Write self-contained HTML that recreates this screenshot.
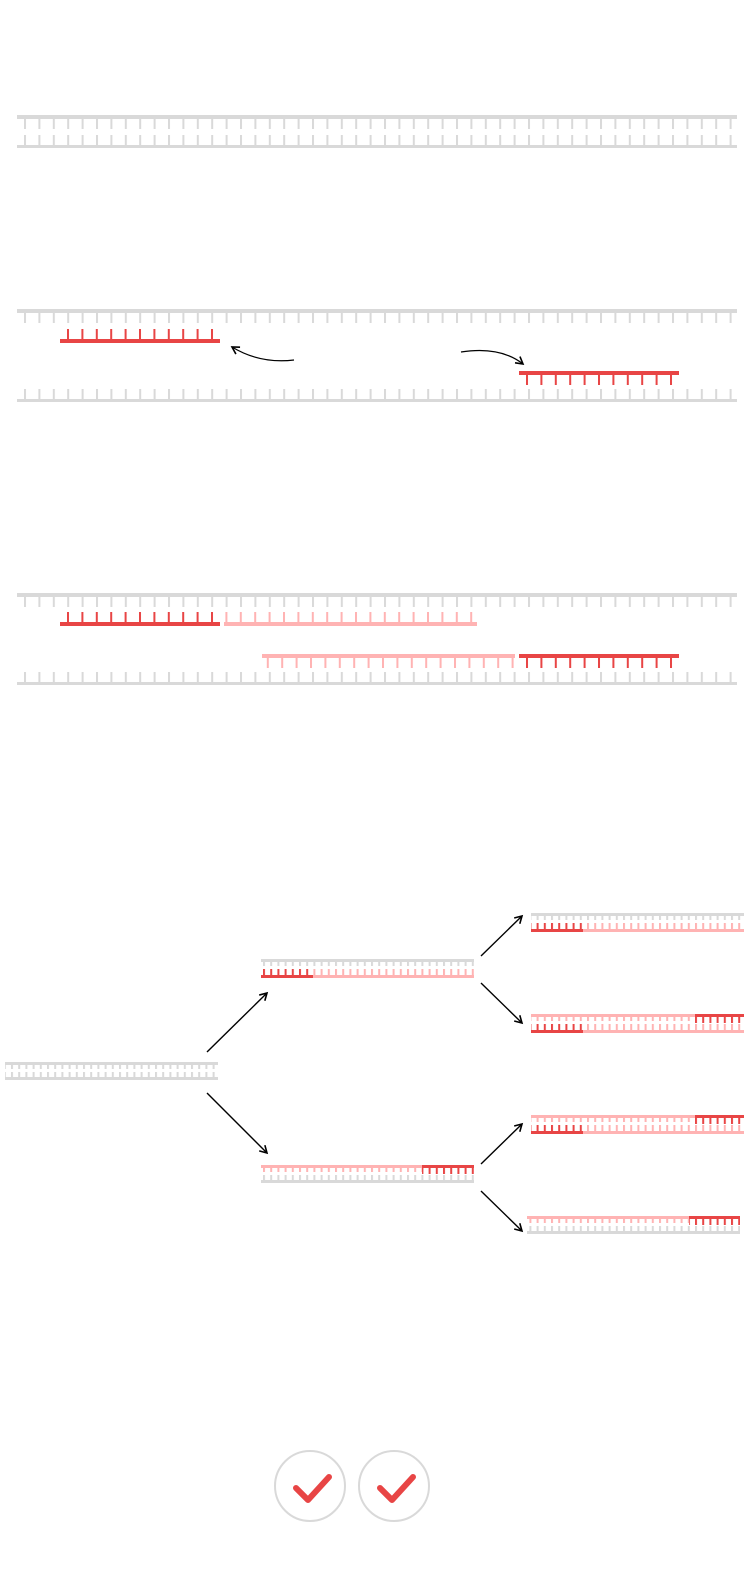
<!DOCTYPE html>
<html><head><meta charset="utf-8"><style>html,body{margin:0;padding:0;background:#fff}svg{display:block}</style></head>
<body>
<svg width="750" height="1570" viewBox="0 0 750 1570" xmlns="http://www.w3.org/2000/svg">
<defs>
<pattern id="bg" patternUnits="userSpaceOnUse" x="24" y="0" width="14.4" height="10"><rect width="2" height="10" fill="#d9d9d9"/></pattern>
<pattern id="br" patternUnits="userSpaceOnUse" x="67" y="0" width="14.4" height="10"><rect width="2" height="10" fill="#e84545"/></pattern>
<pattern id="br2" patternUnits="userSpaceOnUse" x="526" y="0" width="14.4" height="10"><rect width="2" height="10" fill="#e84545"/></pattern>
<pattern id="bp" patternUnits="userSpaceOnUse" x="67" y="0" width="14.4" height="10"><rect width="2" height="10" fill="#ffb3b3"/></pattern>
<pattern id="bp2" patternUnits="userSpaceOnUse" x="526" y="0" width="14.4" height="10"><rect width="2" height="10" fill="#ffb3b3"/></pattern>
<pattern id="sg" patternUnits="userSpaceOnUse" x="11" y="0" width="7.2" height="10"><rect width="2" height="10" fill="#d9d9d9"/></pattern>
<pattern id="sr" patternUnits="userSpaceOnUse" x="11" y="0" width="7.2" height="10"><rect width="2" height="10" fill="#e84545"/></pattern>
<pattern id="sp" patternUnits="userSpaceOnUse" x="11" y="0" width="7.2" height="10"><rect width="2" height="10" fill="#ffb3b3"/></pattern>
<marker id="ah" markerWidth="10" markerHeight="10" refX="8" refY="5" orient="auto" markerUnits="userSpaceOnUse"><path d="M1,1 L8,5 L1,9" fill="none" stroke="#000" stroke-width="1.6"/></marker>
</defs>

<!-- Section 1 -->
<rect x="17" y="115" width="720" height="4" fill="#d9d9d9"/>
<rect x="17" y="119" width="720" height="10" fill="url(#bg)"/>
<rect x="17" y="135" width="720" height="10" fill="url(#bg)"/>
<rect x="17" y="145" width="720" height="3" fill="#d9d9d9"/>

<!-- Section 2 -->
<rect x="17" y="309" width="720" height="4" fill="#d9d9d9"/>
<rect x="17" y="313" width="720" height="10" fill="url(#bg)"/>
<rect x="60" y="339" width="160" height="4" fill="#e84545"/>
<rect x="60" y="329" width="160" height="10" fill="url(#br)"/>
<path d="M294,360 Q260,364 232,347" fill="none" stroke="#000" stroke-width="1.2" marker-end="url(#ah)"/>
<path d="M461,352 Q500,346 523,364" fill="none" stroke="#000" stroke-width="1.2" marker-end="url(#ah)"/>
<rect x="519" y="371" width="160" height="4" fill="#e84545"/>
<rect x="519" y="375" width="160" height="10" fill="url(#br2)"/>
<rect x="17" y="389" width="720" height="10" fill="url(#bg)"/>
<rect x="17" y="399" width="720" height="3" fill="#d9d9d9"/>

<!-- Section 3 -->
<rect x="17" y="593" width="720" height="4" fill="#d9d9d9"/>
<rect x="17" y="597" width="720" height="10" fill="url(#bg)"/>
<rect x="60" y="622" width="160" height="4" fill="#e84545"/>
<rect x="60" y="612" width="160" height="10" fill="url(#br)"/>
<rect x="224" y="622" width="253" height="4" fill="#ffb3b3"/>
<rect x="224" y="612" width="253" height="10" fill="url(#bp)"/>
<rect x="262" y="654" width="253" height="4" fill="#ffb3b3"/>
<rect x="262" y="658" width="253" height="10" fill="url(#bp2)"/>
<rect x="519" y="654" width="160" height="4" fill="#e84545"/>
<rect x="519" y="658" width="160" height="10" fill="url(#br2)"/>
<rect x="17" y="672" width="720" height="10" fill="url(#bg)"/>
<rect x="17" y="682" width="720" height="3" fill="#d9d9d9"/>

<!-- Section 4 -->
<!-- left -->
<rect x="5" y="1062" width="213" height="3" fill="#d9d9d9"/>
<rect x="5" y="1065" width="213" height="4" fill="url(#sg)"/>
<rect x="5" y="1072" width="213" height="5" fill="url(#sg)"/>
<rect x="5" y="1077" width="213" height="3" fill="#d9d9d9"/>

<!-- mid top -->
<rect x="261" y="959" width="213" height="3" fill="#d9d9d9"/>
<rect x="261" y="962" width="213" height="4" fill="url(#sg)"/>
<rect x="261" y="969" width="52" height="6" fill="url(#sr)"/>
<rect x="313" y="969" width="161" height="6" fill="url(#sp)"/>
<rect x="261" y="975" width="52" height="3" fill="#e84545"/>
<rect x="313" y="975" width="161" height="3" fill="#ffb3b3"/>

<!-- mid bottom -->
<rect x="261" y="1165" width="161" height="3" fill="#ffb3b3"/>
<rect x="422" y="1165" width="52" height="3" fill="#e84545"/>
<rect x="261" y="1168" width="161" height="4" fill="url(#sp)"/>
<rect x="422" y="1168" width="52" height="6" fill="url(#sr)"/>
<rect x="261" y="1175" width="213" height="5" fill="url(#sg)"/>
<rect x="261" y="1180" width="213" height="3" fill="#d9d9d9"/>

<!-- right 1 -->
<rect x="531" y="913" width="213" height="3" fill="#d9d9d9"/>
<rect x="531" y="916" width="213" height="4" fill="url(#sg)"/>
<rect x="531" y="923" width="52" height="6" fill="url(#sr)"/>
<rect x="583" y="923" width="161" height="6" fill="url(#sp)"/>
<rect x="531" y="929" width="52" height="3" fill="#e84545"/>
<rect x="583" y="929" width="161" height="3" fill="#ffb3b3"/>

<!-- right 2 -->
<rect x="531" y="1014" width="164" height="3" fill="#ffb3b3"/>
<rect x="695" y="1014" width="49" height="3" fill="#e84545"/>
<rect x="531" y="1017" width="164" height="4" fill="url(#sp)"/>
<rect x="695" y="1017" width="49" height="6" fill="url(#sr)"/>
<rect x="531" y="1024" width="52" height="6" fill="url(#sr)"/>
<rect x="583" y="1024" width="161" height="6" fill="url(#sp)"/>
<rect x="531" y="1030" width="52" height="3" fill="#e84545"/>
<rect x="583" y="1030" width="161" height="3" fill="#ffb3b3"/>

<!-- right 3 -->
<rect x="531" y="1115" width="164" height="3" fill="#ffb3b3"/>
<rect x="695" y="1115" width="49" height="3" fill="#e84545"/>
<rect x="531" y="1118" width="164" height="4" fill="url(#sp)"/>
<rect x="695" y="1118" width="49" height="6" fill="url(#sr)"/>
<rect x="531" y="1125" width="52" height="6" fill="url(#sr)"/>
<rect x="583" y="1125" width="161" height="6" fill="url(#sp)"/>
<rect x="531" y="1131" width="52" height="3" fill="#e84545"/>
<rect x="583" y="1131" width="161" height="3" fill="#ffb3b3"/>

<!-- right 4 -->
<rect x="527" y="1216" width="162" height="3" fill="#ffb3b3"/>
<rect x="689" y="1216" width="51" height="3" fill="#e84545"/>
<rect x="527" y="1219" width="162" height="4" fill="url(#sp)"/>
<rect x="689" y="1219" width="51" height="6" fill="url(#sr)"/>
<rect x="527" y="1226" width="213" height="5" fill="url(#sg)"/>
<rect x="527" y="1231" width="213" height="3" fill="#d9d9d9"/>

<!-- arrows -->
<g stroke="#000" stroke-width="1.4" fill="none" marker-end="url(#ah)">
<line x1="207" y1="1052" x2="267" y2="993"/>
<line x1="207" y1="1093" x2="267" y2="1153"/>
<line x1="481" y1="956" x2="522" y2="916"/>
<line x1="481" y1="983" x2="522" y2="1023"/>
<line x1="481" y1="1164" x2="522" y2="1124"/>
<line x1="481" y1="1191" x2="522" y2="1231"/>
</g>

<!-- checks -->
<circle cx="310" cy="1486" r="35" fill="#fff" stroke="#d9d9d9" stroke-width="2"/>
<circle cx="394" cy="1486" r="35" fill="#fff" stroke="#d9d9d9" stroke-width="2"/>
<path d="M296,1488 L308,1500 L329,1477" fill="none" stroke="#e84545" stroke-width="6" stroke-linecap="round" stroke-linejoin="round"/>
<path d="M380,1488 L392,1500 L413,1477" fill="none" stroke="#e84545" stroke-width="6" stroke-linecap="round" stroke-linejoin="round"/>
</svg>
</body></html>
